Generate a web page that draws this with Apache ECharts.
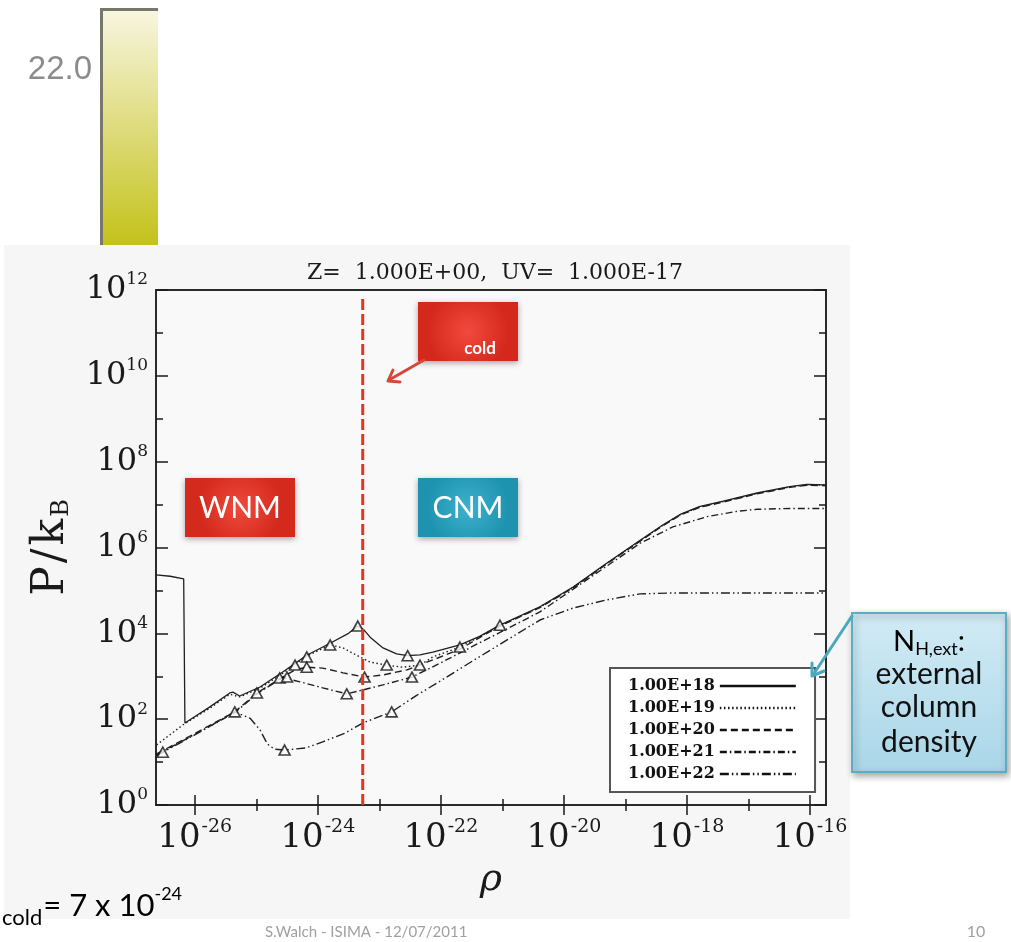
<!DOCTYPE html>
<html><head><meta charset="utf-8">
<script src="https://cdn.jsdelivr.net/npm/echarts@6/dist/echarts.min.js"></script>
<style>html,body{margin:0;padding:0;background:#fff}#chart{width:1011px;height:942px}</style>
</head><body><div id="chart"></div>
<script>
// ---- axis ticks (exponents of 10) ----
const xMin = -26.63, xMax = -15.74;
const yMin = 0, yMax = 12;
const xMajorTicks = [-26, -24, -22, -20, -18, -16];
const xMinorTicks = [-25, -23, -21, -19, -17];
const yMajorTicks = [0, 2, 4, 6, 8, 10, 12];
const yMinorTicks = [1, 3, 5, 7, 9, 11];

// ---- legend names ----
const seriesNames = ['1.00E+18', '1.00E+19', '1.00E+20', '1.00E+21', '1.00E+22'];

// ---- curves: [log10(rho), log10(P/kB)] ----
const nh18 = [[-26.63,5.36],[-26.40,5.33],[-26.18,5.27],[-26.165,5.27],[-26.16,1.91],[-25.76,2.28],[-25.43,2.61],[-25.38,2.63],[-25.27,2.54],[-24.94,2.75],[-24.57,3.10],[-24.18,3.49],[-23.80,3.77],[-23.50,4.00],[-23.35,4.17],[-23.25,4.08],[-23.15,3.91],[-22.94,3.66],[-22.72,3.52],[-22.54,3.48],[-22.34,3.50],[-22.13,3.56],[-21.69,3.73],[-21.37,3.93],[-21.04,4.19],[-20.39,4.62],[-19.85,5.08],[-19.30,5.64],[-18.76,6.17],[-18.40,6.52],[-18.10,6.78],[-17.80,6.95],[-17.41,7.08],[-16.86,7.27],[-16.33,7.42],[-16.05,7.47],[-15.74,7.46]];
const nh19 = [[-26.62,1.40],[-26.20,1.86],[-25.76,2.25],[-25.43,2.58],[-25.27,2.52],[-24.94,2.72],[-24.57,3.07],[-24.18,3.47],[-23.80,3.73],[-23.59,3.66],[-23.37,3.49],[-23.15,3.33],[-22.88,3.26],[-22.62,3.21],[-22.34,3.26],[-22.13,3.45],[-21.69,3.68],[-21.37,3.92],[-21.04,4.18],[-20.39,4.61],[-19.85,5.07],[-19.30,5.63],[-18.76,6.16],[-18.40,6.51],[-18.10,6.77],[-17.80,6.94],[-17.41,7.07],[-16.86,7.26],[-16.33,7.41],[-16.05,7.46],[-15.74,7.45]];
const nh20 = [[-26.62,1.19],[-25.98,1.68],[-25.35,2.17],[-24.99,2.61],[-24.57,2.98],[-24.37,3.15],[-24.18,3.21],[-23.92,3.19],[-23.59,3.08],[-23.24,2.98],[-22.94,3.03],[-22.55,3.15],[-22.13,3.38],[-21.69,3.63],[-21.37,3.90],[-21.04,4.17],[-20.39,4.60],[-19.85,5.06],[-19.30,5.62],[-18.76,6.15],[-18.40,6.50],[-18.10,6.76],[-17.80,6.93],[-17.41,7.06],[-16.86,7.25],[-16.33,7.40],[-16.05,7.45],[-15.74,7.44]];
const nh21 = [[-26.62,1.17],[-25.98,1.66],[-25.35,2.15],[-24.99,2.59],[-24.57,2.97],[-24.29,2.87],[-23.92,2.73],[-23.53,2.59],[-23.27,2.68],[-22.94,2.80],[-22.47,2.98],[-22.02,3.30],[-21.37,3.78],[-21.04,4.02],[-20.39,4.50],[-19.85,5.03],[-19.30,5.57],[-18.76,6.10],[-18.23,6.48],[-17.67,6.72],[-17.20,6.84],[-16.86,6.89],[-16.33,6.91],[-15.74,6.91]];
const nh22 = [[-26.62,1.15],[-25.98,1.65],[-25.35,2.17],[-25.10,2.02],[-24.94,1.75],[-24.82,1.42],[-24.70,1.30],[-24.54,1.28],[-24.20,1.33],[-23.92,1.47],[-23.55,1.68],[-23.27,1.91],[-22.80,2.17],[-22.40,2.55],[-22.02,2.88],[-21.48,3.36],[-20.93,3.84],[-20.39,4.31],[-19.85,4.59],[-19.30,4.78],[-18.76,4.92],[-18.23,4.94],[-17.00,4.94],[-15.74,4.94]];

// ---- triangle markers ----
const markers = [[-26.52,1.23],[-25.35,2.17],[-24.99,2.61],[-24.62,2.96],[-24.50,2.98],[-24.37,3.26],[-24.18,3.45],[-24.18,3.21],[-23.80,3.73],[-23.35,4.17],[-23.53,2.59],[-23.24,2.98],[-22.88,3.26],[-22.54,3.48],[-22.34,3.26],[-22.47,2.98],[-21.69,3.68],[-21.04,4.19],[-24.54,1.28],[-22.80,2.17]];

// ---- rho_cold line ----
const rhoColdLine = [[-23.27, 0], [-23.27, 11.86]];

const curves = [nh18, nh19, nh20, nh21, nh22];
const dashes = ['solid', [1.5, 2.6], [7, 4], [7, 3, 1.5, 3], [9, 3, 1.5, 3, 1.5, 3]];

const serif = 'DejaVu Serif';
const sans = 'Lato';
const ink = '#1a1a1a';

function xAxisDef(pos, ticks, len, withLabels) {
  const ax = {
    type: 'value', min: xMin, max: xMax, position: pos,
    axisLine: { show: false }, splitLine: { show: false },
    axisTick: { show: true, inside: true, length: len, customValues: ticks, lineStyle: { color: ink, width: 1.5 } },
    axisLabel: { show: false }
  };
  if (withLabels) {
    ax.axisLabel = {
      show: true, customValues: ticks, margin: 13,
      formatter: v => '{b|10}{s|' + v + '}',
      rich: {
        b: { fontFamily: serif, fontSize: 34, color: ink },
        s: { fontFamily: serif, fontSize: 19, color: ink, padding: [0, 0, 22, 1] }
      }
    };
    ax.name = '{r|ρ}';
    ax.nameLocation = 'middle';
    ax.nameGap = 56;
    ax.nameTextStyle = { rich: { r: { fontFamily: serif, fontStyle: 'italic', fontSize: 38, color: ink } } };
  }
  return ax;
}
function yAxisDef(pos, ticks, len, withLabels) {
  const ax = {
    type: 'value', min: yMin, max: yMax, position: pos,
    axisLine: { show: false }, splitLine: { show: false },
    axisTick: { show: true, inside: true, length: len, customValues: ticks, lineStyle: { color: ink, width: 1.5 } },
    axisLabel: { show: false }
  };
  if (withLabels) {
    ax.axisLabel = {
      show: true, customValues: ticks, margin: 8,
      formatter: v => '{b|10}{s|' + v + '}',
      rich: {
        b: { fontFamily: serif, fontSize: 32, color: ink },
        s: { fontFamily: serif, fontSize: 17, color: ink, padding: [0, 0, 20, 0] }
      }
    };
    ax.name = '{p|P}{sl|/}{p|k}{sb|B}';
    ax.nameLocation = 'middle';
    ax.nameGap = 82;
    ax.nameTextStyle = { rich: {
      p: { fontFamily: serif, fontSize: 44, color: ink },
      sl: { fontFamily: serif, fontSize: 44, color: ink, padding: [0, 3, 0, 3] },
      sb: { fontFamily: serif, fontSize: 24, color: ink, padding: [20, 0, 0, 2] }
    } };
  }
  return ax;
}

const series = curves.map((d, i) => ({
  name: seriesNames[i], type: 'line', data: d, symbol: 'none', showSymbol: false,
  xAxisIndex: 0, yAxisIndex: 0, z: 3, silent: true,
  lineStyle: { color: '#202020', width: i === 0 ? 1.3 : 1.4, type: dashes[i] }
}));
series.push({
  name: 'markers', type: 'scatter', data: markers, symbol: 'triangle', symbolSize: [11, 10],
  xAxisIndex: 0, yAxisIndex: 0, z: 5, silent: true,
  itemStyle: { color: '#fafafa', borderColor: '#111', borderWidth: 1.6 }
});
series.push({
  name: 'rhoCold', type: 'line', data: rhoColdLine, symbol: 'none', xAxisIndex: 0, yAxisIndex: 0, z: 6, silent: true,
  lineStyle: { color: '#e5341f', width: 3, type: [11, 4] }
});

function arrowHead(pts, color) {
  return { type: 'polyline', shape: { points: pts }, style: { stroke: color, lineWidth: 3, fill: null, lineCap: 'round', lineJoin: 'round' }, z: 20 };
}

const chart = echarts.init(document.getElementById('chart'), null, { renderer: 'canvas' });
chart.setOption({
  backgroundColor: '#ffffff',
  animation: false,
  title: {
    text: 'Z=  1.000E+00,  UV=  1.000E-17', left: 490, top: 257, textAlign: 'center',
    textStyle: { fontFamily: serif, fontSize: 22, fontWeight: 'normal', color: ink }
  },
  grid: { left: 156, top: 290, width: 670, height: 515, show: true, borderColor: '#2a2a2a', borderWidth: 2, backgroundColor: '#f9f9f9' },
  xAxis: [
    xAxisDef('bottom', xMajorTicks, 10, true),
    xAxisDef('bottom', xMinorTicks, 6, false),
    xAxisDef('top', xMajorTicks, 10, false),
    xAxisDef('top', xMinorTicks, 6, false)
  ],
  yAxis: [
    yAxisDef('left', yMajorTicks, 12, true),
    yAxisDef('left', yMinorTicks, 7, false),
    yAxisDef('right', yMajorTicks, 12, false),
    yAxisDef('right', yMinorTicks, 7, false)
  ],
  legend: {
    data: seriesNames, left: 610, top: 668, orient: 'vertical', align: 'right',
    itemWidth: 76, itemHeight: 14, itemGap: 6, padding: [10, 18, 10, 18],
    borderColor: '#555', borderWidth: 2, backgroundColor: '#ffffff',
    textStyle: { fontFamily: serif, fontSize: 16, fontWeight: 'bold', color: '#111' },
    itemStyle: { opacity: 0 },
    lineStyle: { width: 2.4, color: '#111' },
    selectedMode: false
  },
  series: series,
  graphic: [
    // slide image background
    { type: 'rect', shape: { x: 4, y: 245, width: 846, height: 674 }, style: { fill: '#f6f6f6' }, z: -10, silent: true },
    // colour bar fragment
    { type: 'rect', shape: { x: 101, y: 9, width: 57, height: 236 }, z: 1,
      style: { fill: new echarts.graphic.LinearGradient(0, 0, 0, 1, [{ offset: 0, color: '#f8f6e0' }, { offset: 1, color: '#c4c21a' }]) } },
    { type: 'polyline', shape: { points: [[101.5, 245], [101.5, 9.5], [158, 9.5]] }, style: { stroke: '#77776a', lineWidth: 3, fill: null }, z: 2 },
    { type: 'text', style: { text: '22.0', x: 92, y: 70, align: 'right', verticalAlign: 'middle', fontFamily: 'Liberation Sans', fontSize: 33, fill: '#8c8c8c' }, z: 2 },
    // WNM
    { type: 'rect', shape: { x: 185, y: 478, width: 110, height: 59 }, z: 10,
      style: { fill: new echarts.graphic.RadialGradient(0.5, 0.5, 0.7, [{ offset: 0, color: '#f04a3c' }, { offset: 1, color: '#d42a1d' }]), shadowBlur: 6, shadowColor: 'rgba(0,0,0,0.35)', shadowOffsetY: 2 } },
    { type: 'text', z: 11, style: { text: 'WNM', x: 240, y: 508, align: 'center', verticalAlign: 'middle', fontFamily: sans, fontSize: 30, fill: '#ffffff' } },
    // CNM
    { type: 'rect', shape: { x: 418, y: 478, width: 100, height: 59 }, z: 10,
      style: { fill: new echarts.graphic.RadialGradient(0.5, 0.5, 0.7, [{ offset: 0, color: '#3db1cc' }, { offset: 1, color: '#1e93b0' }]), shadowBlur: 6, shadowColor: 'rgba(0,0,0,0.35)', shadowOffsetY: 2 } },
    { type: 'text', z: 11, style: { text: 'CNM', x: 468, y: 508, align: 'center', verticalAlign: 'middle', fontFamily: sans, fontSize: 30, fill: '#ffffff' } },
    // rho_cold callout
    { type: 'rect', shape: { x: 418, y: 302, width: 100, height: 59 }, z: 10,
      style: { fill: new echarts.graphic.RadialGradient(0.5, 0.5, 0.7, [{ offset: 0, color: '#f24a3e' }, { offset: 1, color: '#d4281c' }]), shadowBlur: 6, shadowColor: 'rgba(0,0,0,0.35)', shadowOffsetY: 2 } },
    { type: 'text', z: 11, style: { text: 'cold', x: 480, y: 349, align: 'center', verticalAlign: 'middle', fontFamily: sans, fontSize: 17, fontWeight: 'bold', fill: '#ffffff' } },
    { type: 'line', z: 20, shape: { x1: 424, y1: 360, x2: 389, y2: 380 }, style: { stroke: '#d8463a', lineWidth: 3, lineCap: 'round' } },
    arrowHead([[393, 370], [388, 381], [400, 382]], '#d8463a'),
    // N_H,ext callout
    { type: 'rect', shape: { x: 852, y: 613, width: 154, height: 159 }, z: 10,
      style: { fill: new echarts.graphic.LinearGradient(0, 0, 0, 1, [{ offset: 0, color: '#d2ebf5' }, { offset: 1, color: '#a9d6e8' }]), stroke: '#5aaec4', lineWidth: 2, shadowBlur: 7, shadowColor: 'rgba(0,0,0,0.35)', shadowOffsetX: 2, shadowOffsetY: 3 } },
    { type: 'text', z: 11, style: { text: '{n|N}{s|H,ext}{n|:}', x: 929, y: 642, align: 'center', verticalAlign: 'middle',
      rich: { n: { fontFamily: sans, fontSize: 29, color: '#111' }, s: { fontFamily: sans, fontSize: 18, color: '#111', padding: [14, 0, 0, 0] } } } },
    { type: 'text', z: 11, style: { text: 'external', x: 929, y: 674, align: 'center', verticalAlign: 'middle', fontFamily: sans, fontSize: 30, fill: '#111' } },
    { type: 'text', z: 11, style: { text: 'column', x: 929, y: 707, align: 'center', verticalAlign: 'middle', fontFamily: sans, fontSize: 30, fill: '#111' } },
    { type: 'text', z: 11, style: { text: 'density', x: 929, y: 742, align: 'center', verticalAlign: 'middle', fontFamily: sans, fontSize: 30, fill: '#111' } },
    { type: 'line', z: 20, shape: { x1: 852, y1: 616, x2: 813, y2: 675 }, style: { stroke: '#4aa9c0', lineWidth: 3, lineCap: 'round' } },
    arrowHead([[812, 663], [812, 676], [824, 671]], '#4aa9c0'),
    // bottom slide texts
    { type: 'text', z: 11, style: { text: '{sub|cold}{m|= 7 x 10}{sup|-24}', x: 2, y: 906, align: 'left', verticalAlign: 'middle',
      rich: { sub: { fontFamily: sans, fontSize: 22, color: '#000', padding: [24, 1, 0, 0] }, m: { fontFamily: sans, fontSize: 31, color: '#000' }, sup: { fontFamily: sans, fontSize: 18, color: '#000', padding: [0, 0, 24, 0] } } } },
    { type: 'text', z: 11, style: { text: 'S.Walch - ISIMA - 12/07/2011', x: 265, y: 932, align: 'left', verticalAlign: 'middle', fontFamily: sans, fontSize: 15, fill: '#a0a0a0' } },
    { type: 'text', z: 11, style: { text: '10', x: 976, y: 932, align: 'center', verticalAlign: 'middle', fontFamily: sans, fontSize: 16, fill: '#a0a0a0' } }
  ]
});
</script></body></html>
